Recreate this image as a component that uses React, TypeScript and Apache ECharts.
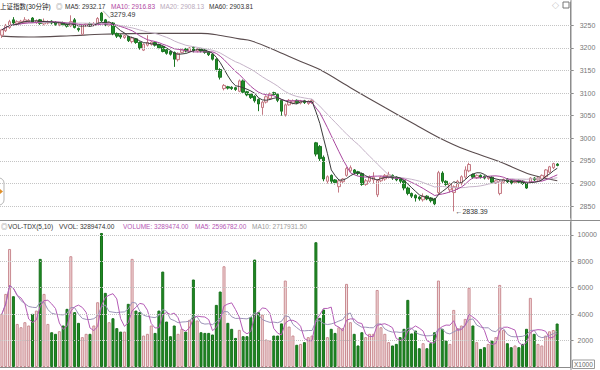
import React, { useEffect, useRef } from 'react';
import * as echarts from 'echarts';

// ---- data (30-minute bars) ----
const opens = [
  3228, 3238, 3245, 3262, 3254, 3255, 3256, 3258, 3266, 3256,
  3262, 3253, 3255, 3259, 3257, 3251, 3256, 3252, 3249, 3262,
  3243, 3230, 3249, 3254, 3250, 3254, 3277, 3262, 3250, 3255,
  3232, 3228, 3223, 3225, 3214, 3220, 3212, 3195, 3206, 3208,
  3212, 3207, 3203, 3196, 3192, 3190, 3174, 3190, 3198, 3192,
  3201, 3193, 3198, 3195, 3191, 3186, 3175, 3152, 3110, 3114,
  3113, 3112, 3104, 3127, 3103, 3098, 3093, 3086, 3068, 3080,
  3088, 3101, 3097, 3084, 3052, 3074, 3078, 3084, 3078, 3083,
  3077, 3079, 2990, 2982, 2958, 2905, 2918, 2908, 2893, 2904,
  2918, 2928, 2930, 2926, 2922, 2898, 2905, 2908, 2875, 2906,
  2910, 2914, 2918, 2914, 2910, 2906, 2890, 2878, 2874, 2870,
  2864, 2872, 2868, 2866, 2880, 2923, 2905, 2886, 2880, 2890,
  2900, 2914, 2928, 2920, 2913, 2918, 2916, 2911, 2914, 2902,
  2878, 2903, 2910, 2906, 2902, 2907, 2905, 2902, 2903, 2912,
  2908, 2910, 2915, 2925, 2935, 2943,
];
const closes = [
  3240, 3250, 3258, 3255, 3258, 3259, 3262, 3261, 3257, 3260,
  3254, 3259, 3258, 3255, 3252, 3255, 3251, 3248, 3258, 3245,
  3240, 3250, 3253, 3250, 3254, 3265, 3260, 3252, 3256, 3232,
  3226, 3224, 3227, 3216, 3222, 3212, 3200, 3208, 3212, 3213,
  3206, 3200, 3192, 3188, 3186, 3175, 3188, 3196, 3193, 3200,
  3194, 3198, 3193, 3190, 3185, 3175, 3152, 3135, 3117, 3111,
  3110, 3108, 3127, 3102, 3096, 3090, 3083, 3076, 3080, 3092,
  3098, 3097, 3084, 3060, 3074, 3084, 3083, 3079, 3082, 3079,
  3082, 3084, 2965, 2955, 2910, 2915, 2905, 2902, 2906, 2910,
  2933, 2935, 2924, 2922, 2898, 2906, 2914, 2914, 2907, 2914,
  2918, 2919, 2912, 2908, 2905, 2890, 2878, 2872, 2868, 2866,
  2872, 2866, 2862, 2855, 2924, 2905, 2898, 2900, 2893, 2905,
  2915, 2930, 2942, 2914, 2918, 2914, 2912, 2915, 2903, 2906,
  2905, 2909, 2904, 2901, 2906, 2903, 2900, 2890, 2912, 2908,
  2912, 2918, 2930, 2937, 2944, 2940,
];
const lows = [
  3222, 3235, 3242, 3252, 3250, 3252, 3253, 3255, 3255, 3253,
  3251, 3250, 3252, 3252, 3249, 3248, 3248, 3245, 3246, 3243,
  3236, 3228, 3246, 3247, 3248, 3252, 3257, 3248, 3247, 3228,
  3222, 3220, 3220, 3213, 3210, 3209, 3196, 3193, 3203, 3205,
  3203, 3197, 3190, 3185, 3183, 3158, 3170, 3188, 3190, 3190,
  3190, 3190, 3190, 3187, 3182, 3172, 3148, 3130, 3106, 3108,
  3107, 3105, 3102, 3099, 3093, 3087, 3079, 3060, 3052, 3077,
  3085, 3095, 3080, 3050, 3048, 3072, 3075, 3076, 3075, 3076,
  3074, 3076, 2960, 2950, 2905, 2900, 2900, 2898, 2880, 2900,
  2915, 2925, 2920, 2918, 2895, 2895, 2902, 2900, 2870, 2903,
  2906, 2911, 2908, 2905, 2901, 2885, 2874, 2868, 2860, 2862,
  2860, 2863, 2858, 2852, 2876, 2900, 2895, 2880, 2838.39, 2886,
  2896, 2910, 2925, 2910, 2910, 2911, 2909, 2908, 2900, 2899,
  2874, 2900, 2901, 2898, 2899, 2900, 2897, 2888, 2900, 2905,
  2906, 2907, 2912, 2922, 2932, 2938,
];
const highs = [
  3242, 3253, 3262, 3268, 3261, 3262, 3268, 3264, 3268, 3263,
  3264, 3265, 3261, 3261, 3259, 3257, 3258, 3254, 3272, 3266,
  3245, 3252, 3255, 3256, 3257, 3268, 3279.49, 3264, 3258, 3257,
  3234, 3230, 3229, 3227, 3225, 3222, 3214, 3210, 3228, 3215,
  3214, 3209, 3205, 3198, 3194, 3192, 3190, 3198, 3200, 3202,
  3203, 3200, 3200, 3197, 3193, 3188, 3177, 3155, 3120, 3116,
  3115, 3114, 3130, 3130, 3105, 3100, 3095, 3088, 3083, 3095,
  3101, 3103, 3099, 3086, 3077, 3087, 3086, 3086, 3085, 3085,
  3084, 3087, 2992, 2985, 2962, 2918, 2920, 2910, 2908, 2912,
  2937, 2940, 2932, 2928, 2924, 2910, 2918, 2925, 2910, 2916,
  2921, 2926, 2920, 2916, 2912, 2908, 2893, 2880, 2876, 2872,
  2878, 2874, 2870, 2868, 2928, 2927, 2907, 2902, 2896, 2908,
  2918, 2938, 2946, 2922, 2920, 2920, 2918, 2917, 2916, 2908,
  2908, 2911, 2912, 2908, 2908, 2909, 2907, 2904, 2914, 2914,
  2914, 2920, 2932, 2939, 2946, 2945,
];
// volume, in units of 1000
const volumes = [
  4020, 5530, 8930, 5355, 3260, 3010, 3390, 3140, 4020, 4270,
  8180, 5530, 3260, 2630, 2510, 2710, 3140, 4400, 8380, 4150,
  3340, 2260, 2510, 2510, 3140, 4900, 10140, 5610, 3390, 3690,
  2940, 2680, 2680, 4780, 8180, 4270, 4150, 2380, 2510, 3140,
  2580, 4270, 7220, 3440, 2330, 3140, 2510, 2890, 2680, 3570,
  6620, 3520, 2630, 2580, 2580, 2460, 4700, 5710, 7620, 3340,
  2890, 2200, 2810, 2330, 2330, 3770, 8130, 4150, 3970, 2080,
  2000, 2380, 2380, 3300, 6540, 3060, 2380, 1680, 1750, 1880,
  2260, 2380, 9440, 3720, 4350, 2260, 2890, 2580, 3010, 2940,
  6290, 3390, 2510, 1630, 2630, 2260, 2510, 2510, 5830, 3010,
  2510, 1880, 1630, 1750, 2260, 2890, 5080, 2540, 2760, 1420,
  1800, 1420, 1800, 2630, 6540, 2890, 2000, 1750, 4320, 2940,
  3140, 3640, 5990, 3140, 1880, 1370, 1500, 1750, 2000, 2260,
  6210, 2810, 1800, 1500, 1630, 1500, 1750, 2890, 5230, 2510,
  1750, 1630, 2380, 2700, 2800, 3290,
];
// MA60 at these bar indices
const ma60Points = [
  [0, 3226], [7, 3224], [18, 3227], [26, 3230], [39, 3232], [52, 3232],
  [56, 3229], [62, 3220], [65, 3216], [71, 3196], [75, 3181], [78, 3170],
  [83, 3152], [91, 3112], [100, 3068], [108, 3030], [114, 3002], [121, 2975],
  [130, 2948], [138, 2920], [145, 2906],
];
const priceTicks = [2850, 2900, 2950, 3000, 3050, 3100, 3150, 3200, 3250];
const volumeTicks = [2000, 4000, 6000, 8000, 10000];
const emptySlots = 3;

const titleText = '上证指数(30分钟)';
const maLegend = ['MA5: 2932.17', 'MA10: 2916.83', 'MA20: 2908.13', 'MA60: 2903.81'];
const volLegend = ['VOL-TDX(5,10)', 'VVOL: 3289474.00', 'VOLUME: 3289474.00', 'MA5: 2596782.00', 'MA10: 2717931.50'];
const highLabel = '3279.49';
const lowLabel = '2838.39';

const FONT = '"Liberation Sans", "Noto Sans CJK SC", sans-serif';

function movingAverage(values: number[], n: number): number[] {
  return values.map((_, i) => {
    const start = Math.max(0, i - n + 1);
    let s = 0;
    for (let k = start; k <= i; k++) s += values[k];
    return +(s / (i - start + 1)).toFixed(2);
  });
}

function txt(x: number, y: number, text: string, fill: string, size = 6.5) {
  return {
    type: 'text', x, y, silent: true,
    style: { text, fill, fontSize: size, fontFamily: FONT, verticalAlign: 'middle', align: 'left' },
  };
}

export default function App() {
  const ref = useRef<HTMLDivElement>(null);
  useEffect(() => {
    if (!ref.current) return;
    const chart = echarts.init(ref.current, undefined, { renderer: 'svg' });
    const n = opens.length;
    const cats = Array.from({ length: n + emptySlots }, (_, i) => String(i));
    const candle = opens.map((o, i) => [o, closes[i], lows[i], highs[i]]);
    const ma5 = movingAverage(closes, 5);
    const ma10 = movingAverage(closes, 10);
    const ma20 = movingAverage(closes, 20);
    const vma5 = movingAverage(volumes, 5);
    const vma10 = movingAverage(volumes, 10);
    const upVol = { color: '#f4dede', borderColor: '#c98a90', borderWidth: 1 };
    const downVol = { color: '#1f8a22', borderColor: '#17701b', borderWidth: 1 };
    const volData = volumes.map((v, i) => ({ value: v, itemStyle: closes[i] >= opens[i] ? upVol : downVol }));
    const gridW = 570.7;
    const hiddenX = {
      type: 'category', data: cats, boundaryGap: true,
      axisLine: { show: false }, axisTick: { show: false }, axisLabel: { show: false }, splitLine: { show: false },
    };
    const lineCommon = { type: 'line', symbol: 'none', showSymbol: false, silent: true };
    const plain = (v: number) => String(Math.round(v));

    chart.setOption({
      animation: false,
      backgroundColor: '#ffffff',
      grid: [
        { left: 0, top: 2, width: gridW, height: 216 },
        { left: 0, top: 222, width: gridW, height: 145 },
      ],
      xAxis: [
        { ...hiddenX, gridIndex: 0 },
        { ...hiddenX, gridIndex: 1, axisLine: { show: true, lineStyle: { color: '#8c8c8c' } } },
      ],
      yAxis: [
        {
          type: 'value', gridIndex: 0, position: 'right', min: 2823.7, max: 3301.5, scale: true,
          splitLine: { show: false },
          axisLine: { show: true, lineStyle: { color: '#8c8c8c' } },
          axisTick: { show: true, length: 3, customValues: priceTicks, lineStyle: { color: '#8c8c8c' } },
          axisLabel: { customValues: priceTicks, formatter: plain, color: '#777', fontSize: 7, fontFamily: FONT, margin: 9 },
        },
        {
          type: 'value', gridIndex: 1, position: 'right', min: 0, max: 10970,
          splitLine: { show: false },
          axisLine: { show: true, lineStyle: { color: '#8c8c8c' } },
          axisTick: { show: true, length: 3, customValues: volumeTicks, lineStyle: { color: '#8c8c8c' } },
          axisLabel: { customValues: volumeTicks, formatter: plain, color: '#777', fontSize: 7, fontFamily: FONT, margin: 7 },
        },
      ],
      series: [
        {
          type: 'line', xAxisIndex: 0, yAxisIndex: 0, data: [], silent: true, z: 1,
          markLine: {
            silent: true, symbol: ['none', 'none'], label: { show: false },
            lineStyle: { type: 'dotted', color: '#c4c4c4', width: 1 },
            data: priceTicks.map((v) => ({ yAxis: v })),
          },
        },
        {
          type: 'line', xAxisIndex: 1, yAxisIndex: 1, data: [], silent: true, z: 1,
          markLine: {
            silent: true, symbol: ['none', 'none'], label: { show: false },
            lineStyle: { type: 'dotted', color: '#c4c4c4', width: 1 },
            data: volumeTicks.map((v) => ({ yAxis: v })),
          },
        },
        {
          type: 'candlestick', xAxisIndex: 0, yAxisIndex: 0, data: candle, barWidth: 3, z: 3,
          itemStyle: { color: '#fbeeee', color0: '#1f8c28', borderColor: '#c47a84', borderColor0: '#1b7522', borderWidth: 1 },
          markPoint: {
            symbol: 'circle', symbolSize: 1, itemStyle: { color: 'transparent' }, silent: true,
            data: [
              { coord: [26, 3279.49], label: { show: true, formatter: '\u2572' + highLabel, position: 'right', distance: 1, offset: [0, 3], color: '#333', fontSize: 7, fontFamily: FONT } },
              { coord: [118, 2838.39], label: { show: true, formatter: '\u2190' + lowLabel, position: 'right', distance: 1, offset: [0, 0], color: '#333', fontSize: 7, fontFamily: FONT } },
            ],
          },
        },
        { ...lineCommon, xAxisIndex: 0, yAxisIndex: 0, data: ma60Points, smooth: 0.3, z: 2, lineStyle: { color: '#5a4c4e', width: 1.1 } },
        { ...lineCommon, xAxisIndex: 0, yAxisIndex: 0, data: ma20, z: 4, lineStyle: { color: '#c5b3c8', width: 1 } },
        { ...lineCommon, xAxisIndex: 0, yAxisIndex: 0, data: ma10, z: 4, lineStyle: { color: '#a9479e', width: 1 } },
        { ...lineCommon, xAxisIndex: 0, yAxisIndex: 0, data: ma5, z: 4, lineStyle: { color: '#3a3a3a', width: 1 } },
        { type: 'bar', xAxisIndex: 1, yAxisIndex: 1, data: volData, barWidth: 3, z: 3, silent: true },
        { ...lineCommon, xAxisIndex: 1, yAxisIndex: 1, data: vma10, z: 4, lineStyle: { color: '#9c93b8', width: 1 } },
        { ...lineCommon, xAxisIndex: 1, yAxisIndex: 1, data: vma5, z: 4, lineStyle: { color: '#b55cb6', width: 1 } },
      ],
      graphic: [
        { type: 'line', silent: true, shape: { x1: 571, y1: 0, x2: 571, y2: 370 }, style: { stroke: '#8c8c8c', lineWidth: 1 } },
        { type: 'line', silent: true, shape: { x1: 0, y1: 220.5, x2: 600, y2: 220.5 }, style: { stroke: '#8c8c8c', lineWidth: 1 } },
        txt(0, 6, titleText, '#222'),
        txt(56, 6, '\u25CE', '#777'),
        txt(65, 6, maLegend[0], '#333'),
        txt(111, 6, maLegend[1], '#b0479f'),
        txt(160, 6, maLegend[2], '#b9a9bb'),
        txt(209, 6, maLegend[3], '#333'),
        txt(1, 226, '\u25CE', '#777'),
        txt(8, 226, volLegend[0], '#333'),
        txt(59, 226, volLegend[1], '#333'),
        txt(123, 226, volLegend[2], '#b455b4'),
        txt(195, 226, volLegend[3], '#b455b4'),
        txt(252, 226, volLegend[4], '#999'),
        txt(552, 5, '\u25C7', '#888', 7),
        { type: 'rect', silent: true, shape: { x: 563, y: 2, width: 6, height: 6 }, style: { fill: '#fff', stroke: '#777', lineWidth: 1 } },
        { type: 'rect', silent: true, shape: { x: 572.5, y: 360, width: 22, height: 8.5 }, style: { fill: '#fff', stroke: '#999', lineWidth: 1 } },
        txt(574, 364.5, 'X1000', '#666', 6.5),
        { type: 'rect', silent: true, shape: { x: -8, y: 178, width: 12, height: 27, r: 5 }, style: { fill: '#fff', stroke: '#b5b5b5', lineWidth: 1 } },
        { type: 'polygon', silent: true, shape: { points: [[0, 189], [3, 191.5], [0, 194]] }, style: { fill: '#e0902a' } },
      ],
    });
    return () => chart.dispose();
  }, []);
  return <div ref={ref} style={{ position: 'absolute', left: 0, top: 0, width: 600, height: 370 }} />;
}
